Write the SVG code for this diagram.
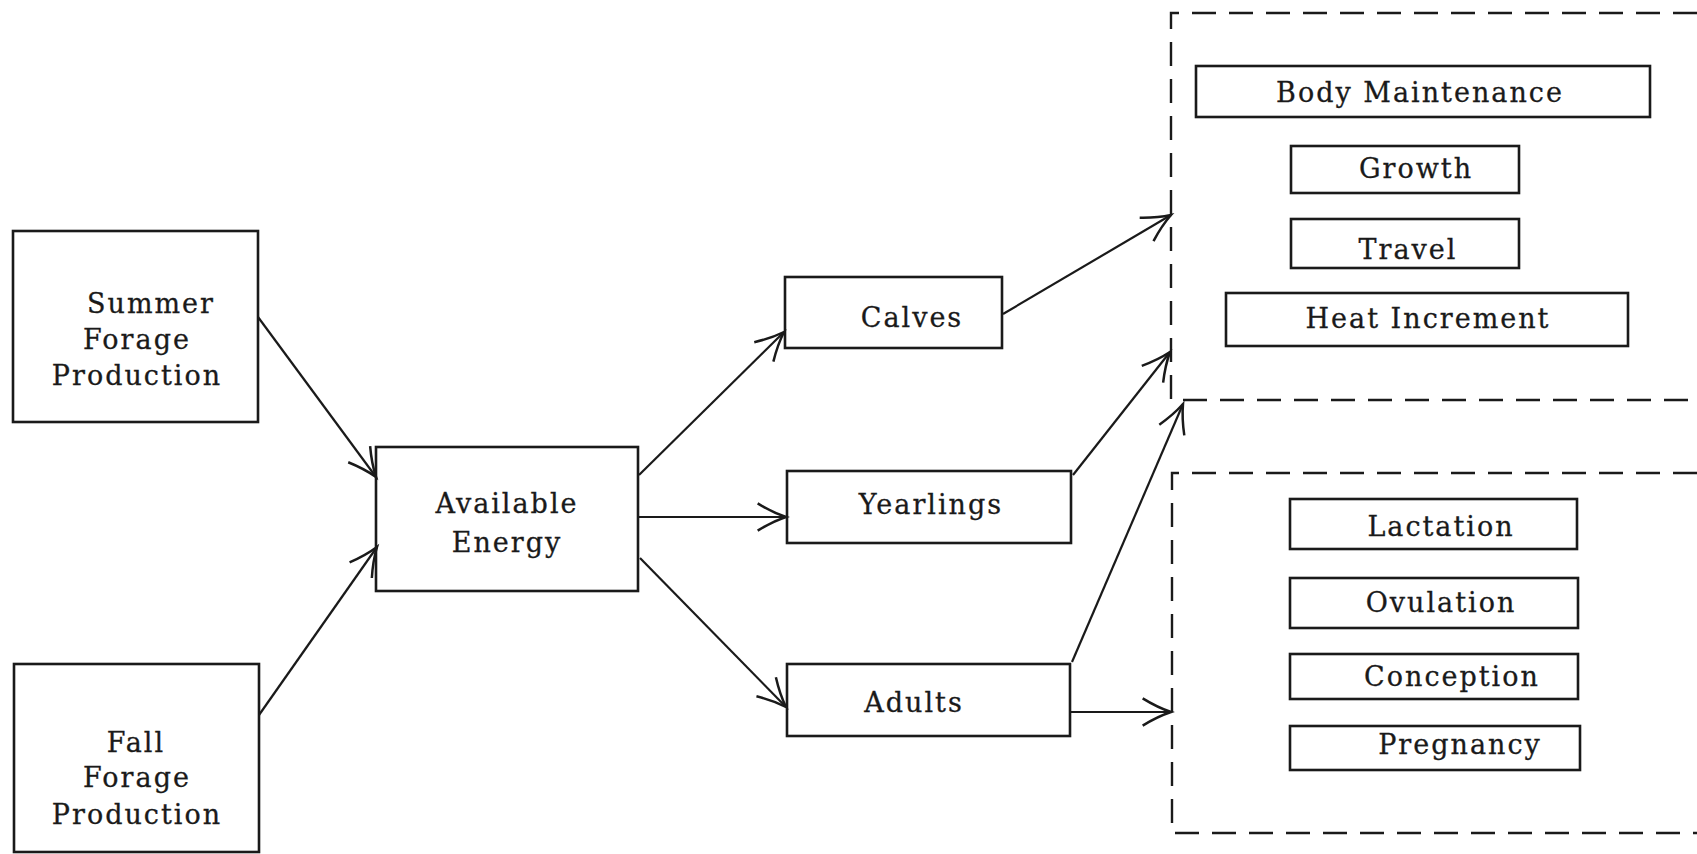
<svg xmlns="http://www.w3.org/2000/svg" width="1697" height="854" viewBox="0 0 1697 854">
<style>
.box{fill:none;stroke:#1a1a1a;stroke-width:2.6}
.dash{fill:none;stroke:#1a1a1a;stroke-width:2.4;stroke-dasharray:24 13}
.con{fill:none;stroke:#1a1a1a;stroke-width:2.2}
text{font-family:"DejaVu Serif","Liberation Serif",serif;font-size:27px;fill:#1a1a1a;stroke:#1a1a1a;stroke-width:0.3;text-anchor:middle;letter-spacing:2px}
</style>
<defs>
<marker id="arr" markerUnits="userSpaceOnUse" markerWidth="34" markerHeight="34" refX="26" refY="13" orient="auto" viewBox="0 0 30 26">
<path d="M1,1 Q14,9 26,13 Q14,17 1,25" fill="none" stroke="#1a1a1a" stroke-width="2.2"/>
</marker>
</defs>
<rect width="1697" height="854" fill="#fff"/>
<g id="group-maintenance"><path class="dash" d="M1697,13 L1171,13 L1171,400 L1697,400"/></g>
<g id="group-reproduction"><path class="dash" d="M1697,473 L1172,473 L1172,833 L1697,833"/></g>
<g id="summer"><rect class="box" x="13" y="231" width="245" height="191"/><text x="151" y="313">Summer</text><text x="137" y="349">Forage</text><text x="137" y="385">Production</text></g>
<g id="fall"><rect class="box" x="14" y="664" width="245" height="188"/><text x="136" y="752">Fall</text><text x="137" y="787">Forage</text><text x="137" y="824">Production</text></g>
<g id="energy"><rect class="box" x="376" y="447" width="262" height="144"/><text x="507" y="513">Available</text><text x="507" y="552">Energy</text></g>
<g id="calves"><rect class="box" x="785" y="277" width="217" height="71"/><text x="912" y="327">Calves</text></g>
<g id="yearlings"><rect class="box" x="787" y="471" width="284" height="72"/><text x="931" y="514">Yearlings</text></g>
<g id="adults"><rect class="box" x="787" y="664" width="283" height="72"/><text x="914" y="712">Adults</text></g>
<g id="body"><rect class="box" x="1196" y="66" width="454" height="51"/><text x="1420" y="102">Body Maintenance</text></g>
<g id="growth"><rect class="box" x="1291" y="146" width="228" height="47"/><text x="1416" y="178">Growth</text></g>
<g id="travel"><rect class="box" x="1291" y="219" width="228" height="49"/><text x="1408" y="259">Travel</text></g>
<g id="heat"><rect class="box" x="1226" y="293" width="402" height="53"/><text x="1428" y="328">Heat Increment</text></g>
<g id="lactation"><rect class="box" x="1290" y="499" width="287" height="50"/><text x="1441" y="536">Lactation</text></g>
<g id="ovulation"><rect class="box" x="1290" y="578" width="288" height="50"/><text x="1441" y="612">Ovulation</text></g>
<g id="conception"><rect class="box" x="1290" y="654" width="288" height="45"/><text x="1452" y="686">Conception</text></g>
<g id="pregnancy"><rect class="box" x="1290" y="726" width="290" height="44"/><text x="1460" y="754">Pregnancy</text></g>
<g id="connectors">
<line class="con" x1="258" y1="317" x2="376" y2="477" marker-end="url(#arr)"/>
<line class="con" x1="259" y1="715" x2="377" y2="547" marker-end="url(#arr)"/>
<line class="con" x1="639" y1="475" x2="784" y2="332" marker-end="url(#arr)"/>
<line class="con" x1="639" y1="517" x2="786" y2="517" marker-end="url(#arr)"/>
<line class="con" x1="640" y1="558" x2="786" y2="707" marker-end="url(#arr)"/>
<line class="con" x1="1003" y1="314" x2="1171" y2="215" marker-end="url(#arr)"/>
<line class="con" x1="1073" y1="475" x2="1170" y2="352" marker-end="url(#arr)"/>
<line class="con" x1="1072" y1="662" x2="1183" y2="404" marker-end="url(#arr)"/>
<line class="con" x1="1070" y1="712" x2="1171" y2="712" marker-end="url(#arr)"/>
</g>
</svg>
